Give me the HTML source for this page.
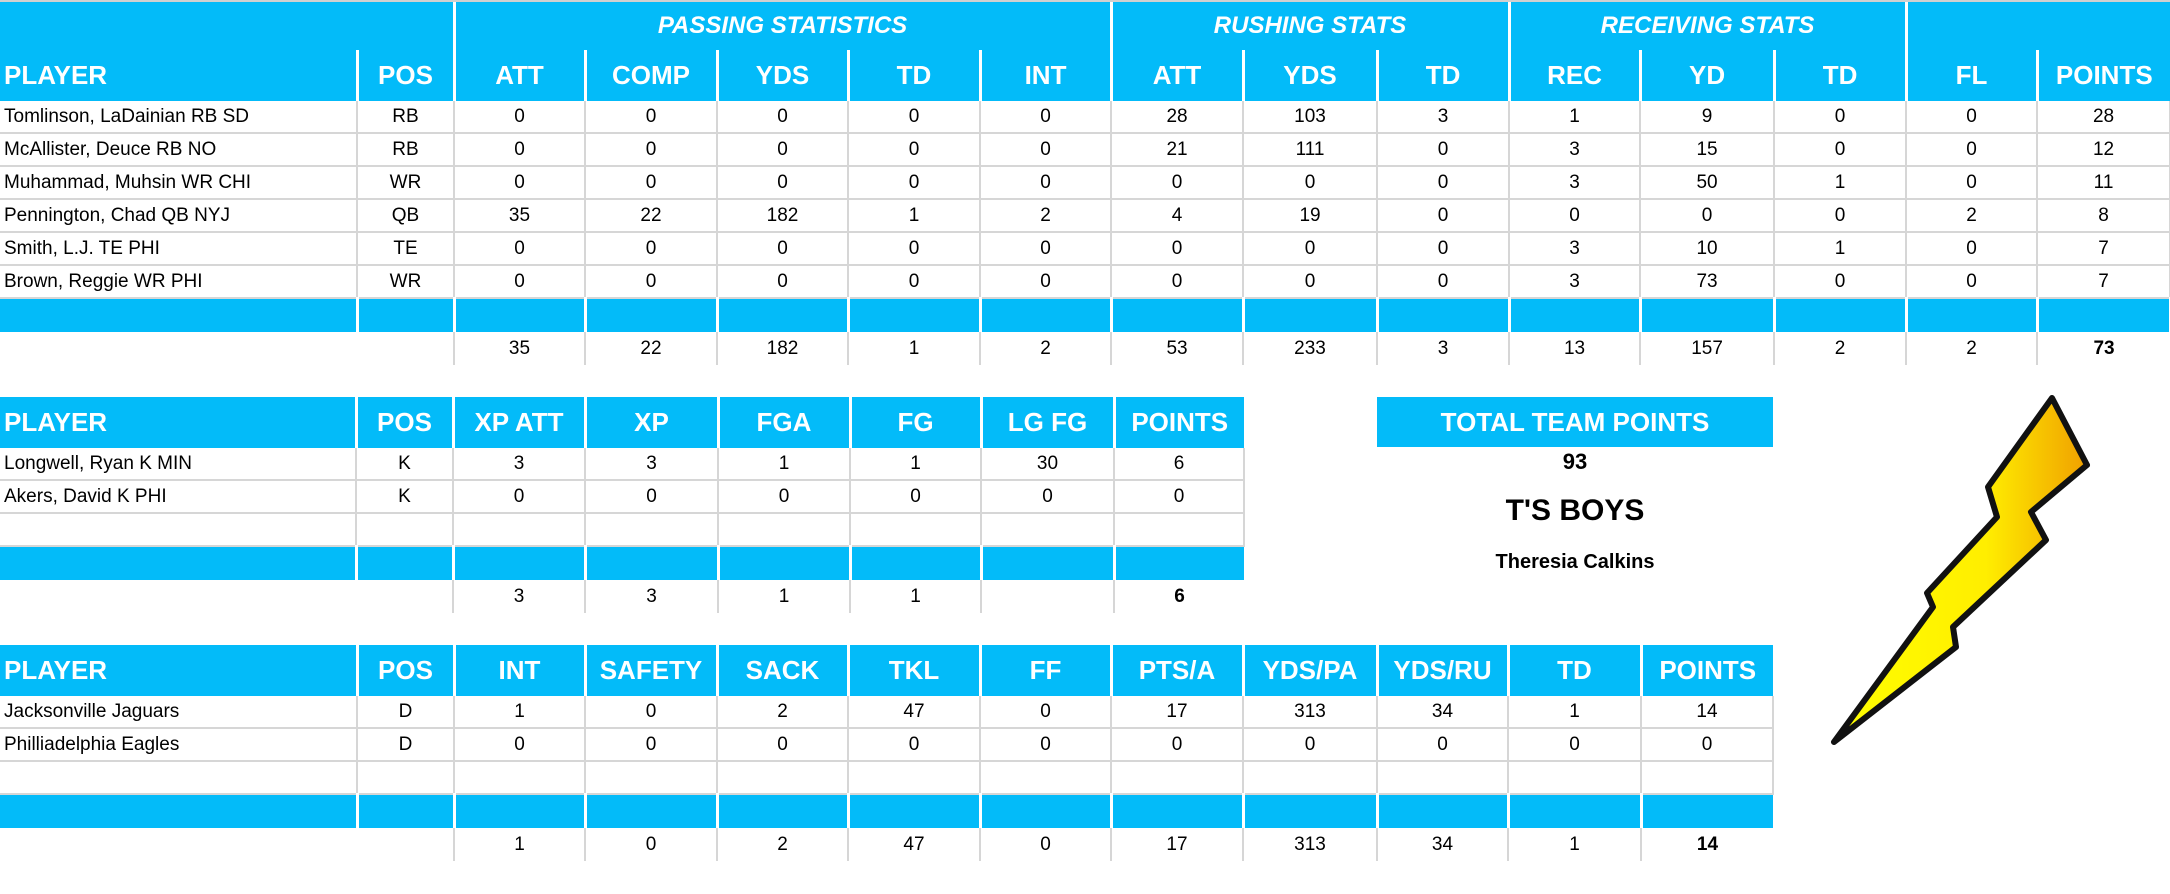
<!DOCTYPE html>
<html><head><meta charset="utf-8"><style>
body{margin:0;width:2170px;height:894px;background:#fff;position:relative;overflow:hidden;font-family:"Liberation Sans",Arial,sans-serif;}
table{position:absolute;left:0;border-collapse:collapse;table-layout:fixed;}
td{padding:0;text-align:center;white-space:nowrap;overflow:hidden;font-size:19px;color:#000;}
.b td{background:#03bbf9;border-right:3px solid #fff;color:#fff;font-weight:bold;font-size:26px;}
.t td{font-style:italic;font-size:24px;vertical-align:middle;}
.h td{vertical-align:middle;}
.d td{height:31px;border-right:2px solid #d6d6d6;border-bottom:2px solid #d6d6d6;}
.bl td{background:#03bbf9;height:33px;border-right:3px solid #fff;border-bottom:0;}
.tot td{height:33px;border-right:2px solid #d6d6d6;}
td.l{text-align:left;padding-left:4px;}
.tot td.n{border-right:0;}
</style></head><body>
<div style="position:absolute;left:0;top:0;width:2170px;height:2px;background:#d0d0d0"></div>
<table style="top:2px;width:2170px">
<colgroup><col style="width:357px"><col style="width:97px"><col style="width:131px"><col style="width:132px"><col style="width:131px"><col style="width:132px"><col style="width:131px"><col style="width:132px"><col style="width:134px"><col style="width:132px"><col style="width:131px"><col style="width:134px"><col style="width:132px"><col style="width:131px"><col style="width:133px"></colgroup>
<tr class="b t" style="height:48px"><td colspan="2"></td><td colspan="5">PASSING STATISTICS</td><td colspan="3">RUSHING STATS</td><td colspan="3">RECEIVING STATS</td><td colspan="2" style="border-right:0"></td></tr>
<tr class="b h" style="height:51px"><td class="l">PLAYER</td><td>POS</td><td>ATT</td><td>COMP</td><td>YDS</td><td>TD</td><td>INT</td><td>ATT</td><td>YDS</td><td>TD</td><td>REC</td><td>YD</td><td>TD</td><td>FL</td><td style="border-right:0">POINTS</td></tr>
<tr class="d"><td class="l">Tomlinson, LaDainian RB SD</td><td>RB</td><td>0</td><td>0</td><td>0</td><td>0</td><td>0</td><td>28</td><td>103</td><td>3</td><td>1</td><td>9</td><td>0</td><td>0</td><td>28</td></tr>
<tr class="d"><td class="l">McAllister, Deuce RB NO</td><td>RB</td><td>0</td><td>0</td><td>0</td><td>0</td><td>0</td><td>21</td><td>111</td><td>0</td><td>3</td><td>15</td><td>0</td><td>0</td><td>12</td></tr>
<tr class="d"><td class="l">Muhammad, Muhsin WR CHI</td><td>WR</td><td>0</td><td>0</td><td>0</td><td>0</td><td>0</td><td>0</td><td>0</td><td>0</td><td>3</td><td>50</td><td>1</td><td>0</td><td>11</td></tr>
<tr class="d"><td class="l">Pennington, Chad QB NYJ</td><td>QB</td><td>35</td><td>22</td><td>182</td><td>1</td><td>2</td><td>4</td><td>19</td><td>0</td><td>0</td><td>0</td><td>0</td><td>2</td><td>8</td></tr>
<tr class="d"><td class="l">Smith, L.J. TE PHI</td><td>TE</td><td>0</td><td>0</td><td>0</td><td>0</td><td>0</td><td>0</td><td>0</td><td>0</td><td>3</td><td>10</td><td>1</td><td>0</td><td>7</td></tr>
<tr class="d"><td class="l">Brown, Reggie WR PHI</td><td>WR</td><td>0</td><td>0</td><td>0</td><td>0</td><td>0</td><td>0</td><td>0</td><td>0</td><td>3</td><td>73</td><td>0</td><td>0</td><td>7</td></tr>
<tr class="bl"><td></td><td></td><td></td><td></td><td></td><td></td><td></td><td></td><td></td><td></td><td></td><td></td><td></td><td></td><td></td></tr>
<tr class="tot"><td class="n"></td><td></td><td>35</td><td>22</td><td>182</td><td>1</td><td>2</td><td>53</td><td>233</td><td>3</td><td>13</td><td>157</td><td>2</td><td>2</td><td style="font-weight:bold;border-right:0">73</td></tr>
</table>

<table style="top:397px;width:1244px">
<colgroup><col style="width:356px"><col style="width:97px"><col style="width:132px"><col style="width:133px"><col style="width:132px"><col style="width:131px"><col style="width:133px"><col style="width:130px"></colgroup>
<tr class="b h" style="height:51px"><td class="l">PLAYER</td><td>POS</td><td>XP ATT</td><td>XP</td><td>FGA</td><td>FG</td><td>LG FG</td><td style="border-right:0">POINTS</td></tr>
<tr class="d"><td class="l">Longwell, Ryan K MIN</td><td>K</td><td>3</td><td>3</td><td>1</td><td>1</td><td>30</td><td>6</td></tr>
<tr class="d"><td class="l">Akers, David K PHI</td><td>K</td><td>0</td><td>0</td><td>0</td><td>0</td><td>0</td><td>0</td></tr>
<tr class="d"><td class="l"></td><td></td><td></td><td></td><td></td><td></td><td></td><td></td></tr>
<tr class="bl"><td></td><td></td><td></td><td></td><td></td><td></td><td></td><td style="border-right:0"></td></tr>
<tr class="tot"><td class="n"></td><td></td><td>3</td><td>3</td><td>1</td><td>1</td><td></td><td style="font-weight:bold;border-right:0">6</td></tr>
</table>

<table style="top:645px;width:1773px">
<colgroup><col style="width:357px"><col style="width:97px"><col style="width:131px"><col style="width:132px"><col style="width:131px"><col style="width:132px"><col style="width:131px"><col style="width:132px"><col style="width:134px"><col style="width:131px"><col style="width:133px"><col style="width:132px"></colgroup>
<tr class="b h" style="height:51px"><td class="l">PLAYER</td><td>POS</td><td>INT</td><td>SAFETY</td><td>SACK</td><td>TKL</td><td>FF</td><td>PTS/A</td><td>YDS/PA</td><td>YDS/RU</td><td>TD</td><td style="border-right:0">POINTS</td></tr>
<tr class="d"><td class="l">Jacksonville Jaguars</td><td>D</td><td>1</td><td>0</td><td>2</td><td>47</td><td>0</td><td>17</td><td>313</td><td>34</td><td>1</td><td>14</td></tr>
<tr class="d"><td class="l">Philliadelphia Eagles</td><td>D</td><td>0</td><td>0</td><td>0</td><td>0</td><td>0</td><td>0</td><td>0</td><td>0</td><td>0</td><td>0</td></tr>
<tr class="d"><td class="l"></td><td></td><td></td><td></td><td></td><td></td><td></td><td></td><td></td><td></td><td></td><td></td></tr>
<tr class="bl"><td></td><td></td><td></td><td></td><td></td><td></td><td></td><td></td><td></td><td></td><td></td><td style="border-right:0"></td></tr>
<tr class="tot"><td class="n"></td><td></td><td>1</td><td>0</td><td>2</td><td>47</td><td>0</td><td>17</td><td>313</td><td>34</td><td>1</td><td style="font-weight:bold;border-right:0">14</td></tr>
</table>

<div style="position:absolute;left:1377px;top:397px;width:396px;height:50px;background:#03bbf9;color:#fff;font-weight:bold;font-size:26px;line-height:50px;text-align:center">TOTAL TEAM POINTS</div>
<div style="position:absolute;left:1377px;top:449px;width:396px;text-align:center;font-weight:bold;font-size:22px">93</div>
<div style="position:absolute;left:1377px;top:494px;width:396px;text-align:center;font-weight:bold;font-size:30px">T'S BOYS</div>
<div style="position:absolute;left:1377px;top:551px;width:396px;text-align:center;font-weight:bold;font-size:20px">Theresia Calkins</div>

<svg style="position:absolute;left:0;top:0" width="2170" height="894">
<defs><linearGradient id="g" x1="0" y1="0" x2="1" y2="0"><stop offset="0" stop-color="#ffff00"/><stop offset="0.6" stop-color="#ffee00"/><stop offset="1" stop-color="#f0a000"/></linearGradient></defs>
<polygon points="2052,398 2087,465 2031,512 2046,540 1953,627 1956,647 1834,742 1933,607 1927,593 1997,517 1988,487" fill="url(#g)" stroke="#111" stroke-width="6" stroke-linejoin="round"/>
</svg>
</body></html>
